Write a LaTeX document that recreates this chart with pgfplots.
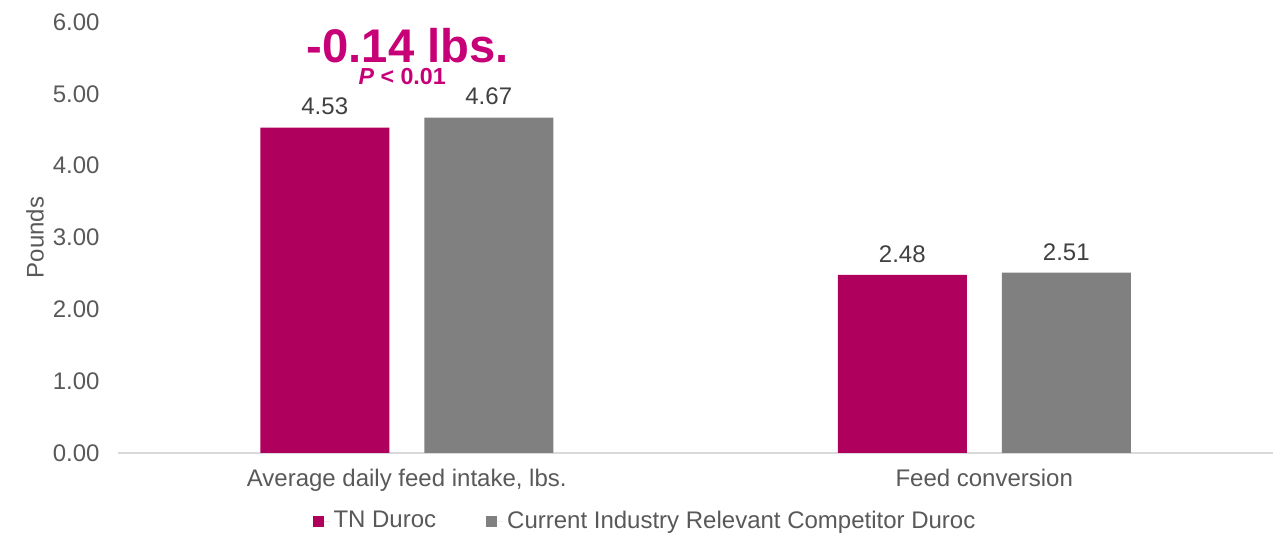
\documentclass[border=0pt]{standalone}
\usepackage{pgfplots}
\pgfplotsset{compat=1.18}
\usepackage{fontspec}
\setmainfont{Liberation Sans}
\definecolor{tnmag}{RGB}{176,0,94}
\definecolor{annmag}{RGB}{200,0,120}
\definecolor{compgray}{RGB}{128,128,128}
\definecolor{txtgray}{RGB}{89,89,89}
\definecolor{valgray}{RGB}{64,64,64}
\definecolor{axgray}{RGB}{217,217,217}
\begin{document}
\begin{tikzpicture}
\useasboundingbox (-59pt,-48pt) rectangle (585pt,226.5pt);
\begin{axis}[
  at={(0,0)}, anchor=south west,
  scale only axis,
  width=577.5pt, height=215.5pt,
  ybar=17.5pt, bar width=64.5pt,
  xmin=-0.5, xmax=1.5, ymin=0, ymax=6,
  xtick=data,
  xticklabels={{Average daily feed intake, lbs.},{Feed conversion}},
  ytick={0,1,2,3,4,5,6},
  major tick length=0pt,
  axis x line*=bottom, axis y line*=left,
  x axis line style={draw=axgray, line width=0.75pt, -},
  y axis line style={draw=none},
  /pgf/number format/assume math mode=true,
  yticklabel style={/pgf/number format/.cd, fixed, fixed zerofill, precision=2, /tikz/.cd,
    font=\fontsize{12}{14}\selectfont, text=txtgray, anchor=east, inner sep=0pt, xshift=-9pt},
  xticklabel style={font=\fontsize{12}{14}\selectfont, text=txtgray, anchor=base, inner sep=0pt, yshift=-17pt},
  ylabel={Pounds},
  ylabel style={at={(axis description cs:-0.0719,0.5)}, anchor=center, font=\fontsize{12}{14}\selectfont, text=txtgray, inner sep=0pt},
  nodes near coords,
  nodes near coords style={/pgf/number format/.cd, fixed, fixed zerofill, precision=2, /tikz/.cd,
    font=\fontsize{12}{14}\selectfont, text=valgray, anchor=south, inner sep=0pt, yshift=6pt},
  legend columns=2,
  legend style={draw=none, at={(axis description cs:0.4571,-0.158)}, anchor=center,
    font=\fontsize{12}{14}\selectfont, text=txtgray,
    /tikz/every even column/.append style={column sep=23pt}},
  legend image code/.code={\path (0pt,0pt) -- (8.5pt,0pt); \fill[#1] (0pt,-2.75pt) rectangle (5.5pt,2.75pt);},
  clip=false,
]
\addplot[fill=tnmag, draw=none] coordinates {(0,4.53) (1,2.48)};
\addplot[fill=compgray, draw=none] coordinates {(0,4.67) (1,2.51)};
\legend{TN Duroc, Current Industry Relevant Competitor Duroc}
\node[anchor=base, text=annmag, font=\fontsize{23.6}{26}\selectfont\bfseries, inner sep=0pt] at (axis cs:0.002,5.434) {-0.14 lbs.};
\node[anchor=base, text=annmag, font=\fontsize{11.6}{13}\selectfont\bfseries, inner sep=0pt] at (axis cs:-0.008,5.135) {\textit{P} < 0.01};
\end{axis}
\end{tikzpicture}
\end{document}
